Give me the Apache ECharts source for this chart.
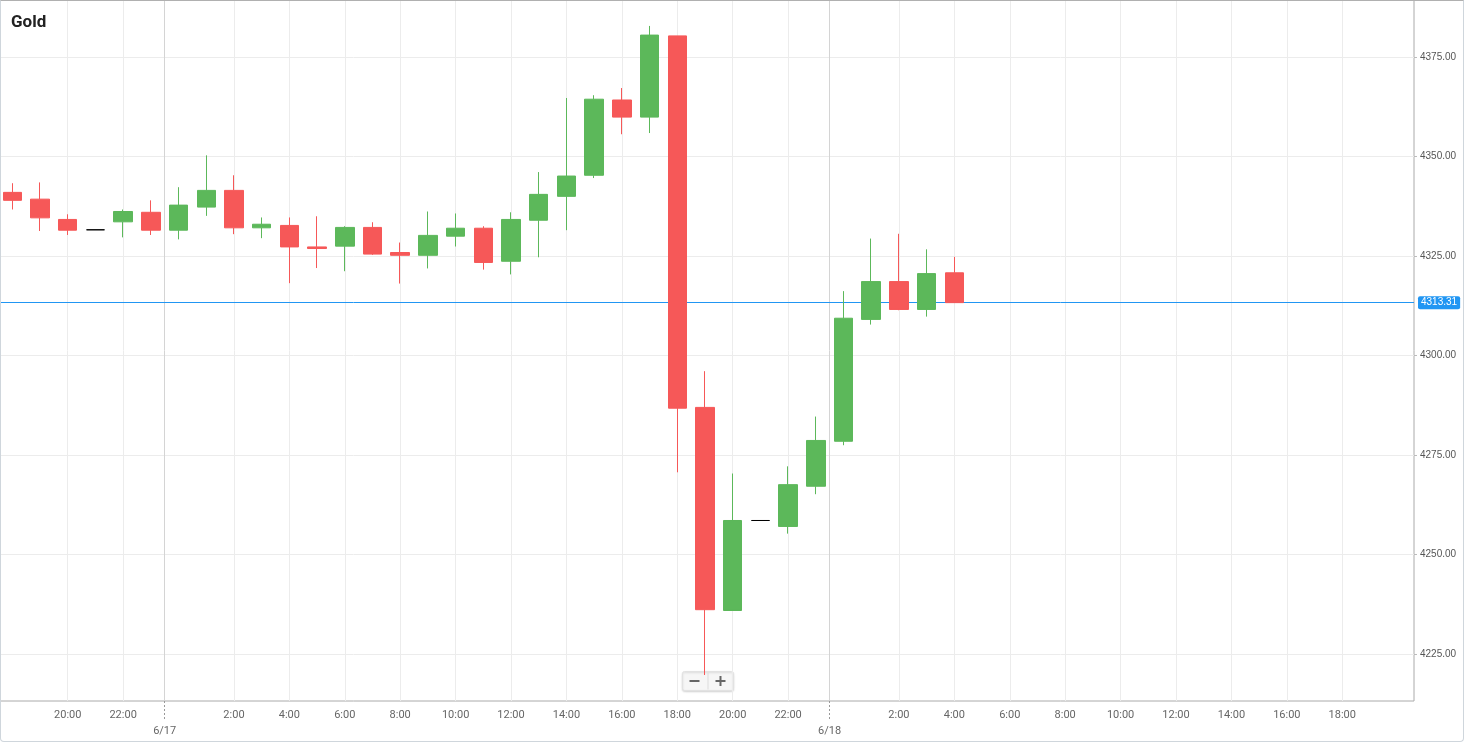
<!DOCTYPE html>
<html>
<head>
<meta charset="utf-8">
<script src="https://cdn.jsdelivr.net/npm/echarts@6/dist/echarts.min.js"></script>
<style>
html,body{margin:0;padding:0;background:#fff;}
#wrap{position:relative;width:1464px;height:742px;}
#chart{position:absolute;left:0;top:0;width:1464px;height:742px;}
#frame{position:absolute;left:0;top:0;width:1464px;height:742px;box-sizing:border-box;
  border:1px solid #cfd6dc;border-top-color:#b0b0b0;border-radius:0 0 4px 4px;pointer-events:none;}
</style>
</head>
<body>
<div id="wrap"><div id="chart"></div><div id="frame"></div></div>
<script>
// Hourly candles, 6/16 18:00 through 6/18 04:00
const candleTimes = [
  '6/16 18:00','6/16 19:00','6/16 20:00','6/16 21:00','6/16 22:00','6/16 23:00',
  '6/17 0:00','6/17 1:00','6/17 2:00','6/17 3:00','6/17 4:00','6/17 5:00',
  '6/17 6:00','6/17 7:00','6/17 8:00','6/17 9:00','6/17 10:00','6/17 11:00',
  '6/17 12:00','6/17 13:00','6/17 14:00','6/17 15:00','6/17 16:00','6/17 17:00',
  '6/17 18:00','6/17 19:00','6/17 20:00','6/17 21:00','6/17 22:00','6/17 23:00',
  '6/18 0:00','6/18 1:00','6/18 2:00','6/18 3:00','6/18 4:00'
];
const openVals  = [4341.0,4339.3,4334.2,4331.6,4333.6,4336.0,4331.5,4337.3,4341.5,4332.1,4332.7,4327.3,4327.5,4332.2,4325.9,4325.2,4330.0,4332.0,4323.7,4334.0,4340.0,4345.3,4364.2,4359.9,4380.3,4287.0,4236.0,4258.6,4257.1,4267.2,4278.5,4309.1,4318.6,4311.6,4320.8];
const closeVals = [4339.0,4334.6,4331.5,4331.6,4336.2,4331.5,4337.8,4341.5,4332.1,4333.0,4327.3,4326.9,4332.2,4325.5,4325.2,4330.2,4332.0,4323.4,4334.2,4340.5,4345.1,4364.4,4359.9,4380.5,4286.8,4236.2,4258.6,4258.6,4267.6,4278.7,4309.4,4318.6,4311.6,4320.6,4313.31];
const lowVals   = [4336.7,4331.3,4330.3,4331.6,4329.7,4330.3,4329.2,4335.1,4330.5,4329.5,4318.2,4322.0,4321.2,4325.3,4318.1,4321.9,4327.4,4321.6,4320.4,4324.7,4331.5,4344.6,4355.6,4355.9,4270.7,4219.8,4236.0,4258.6,4255.3,4265.2,4277.5,4307.8,4311.4,4309.8,4313.31];
const highVals  = [4343.3,4343.5,4335.5,4331.6,4336.7,4339.0,4342.3,4350.3,4345.3,4334.7,4334.7,4335.0,4332.5,4333.5,4328.4,4336.2,4335.7,4332.5,4336.0,4346.1,4364.7,4365.4,4367.2,4382.8,4380.3,4296.1,4270.4,4258.6,4272.2,4284.7,4316.2,4329.4,4330.6,4326.7,4324.8];
const lastPrice = 4313.31;

// x-axis tick labels (slot = hours since 6/16 18:00)
const hourLabelSlots = [2,4,8,10,12,14,16,18,20,22,24,26,28,32,34,36,38,40,42,44,46,48];
const hourLabels = ['20:00','22:00','2:00','4:00','6:00','8:00','10:00','12:00','14:00','16:00','18:00','20:00','22:00','2:00','4:00','6:00','8:00','10:00','12:00','14:00','16:00','18:00'];
const dayBreakSlots = [5.5, 29.5];
const dayLabels = ['6/17', '6/18'];
const yTicks = [4225, 4250, 4275, 4300, 4325, 4350, 4375];

const xMin = -0.444, xMax = 50.59;
const yMin = 4213.27, yMax = 4389.31;

const ohlc = candleTimes.map((t, i) => [i, openVals[i], closeVals[i], lowVals[i], highVals[i]]);

const UP = '#5CB85A', DOWN = '#F65858';

const chart = echarts.init(document.getElementById('chart'), null, {renderer: 'canvas'});
chart.setOption({
  animation: false,
  title: {
    text: 'Gold', left: 11, top: 14, padding: 0,
    textStyle: {fontFamily: 'Roboto', fontWeight: 'bold', fontSize: 17, color: '#222'}
  },
  grid: {left: 0, right: 50, top: 0, bottom: 41, show: true, borderColor: '#aaa', borderWidth: 1, backgroundColor: 'transparent'},
  xAxis: [{
    type: 'value', min: xMin, max: xMax, position: 'bottom',
    axisLine: {show: false, onZero: false},
    axisTick: {show: false, customValues: hourLabelSlots},
    axisLabel: {
      customValues: hourLabelSlots,
      formatter: v => hourLabels[hourLabelSlots.indexOf(v)] || '',
      color: '#666', fontSize: 11, fontFamily: 'Roboto', margin: 9
    },
    splitLine: {show: true, lineStyle: {color: '#ececec', width: 1}}
  }, {
    type: 'value', min: xMin, max: xMax, position: 'bottom',
    axisLine: {show: false, onZero: false},
    axisTick: {show: true, customValues: dayBreakSlots, length: 18, lineStyle: {color: '#999', type: [2, 2]}},
    axisLabel: {
      customValues: dayBreakSlots,
      formatter: v => dayLabels[dayBreakSlots.indexOf(v)] || '',
      color: '#666', fontSize: 11, fontFamily: 'Roboto', margin: 25
    },
    splitLine: {show: true, lineStyle: {color: '#d4d4d4', width: 1}}
  }],
  yAxis: {
    type: 'value', position: 'right', min: yMin, max: yMax, scale: true,
    axisLine: {show: false, onZero: false},
    axisTick: {show: true, length: 3, customValues: yTicks, lineStyle: {color: '#bbb'}},
    axisLabel: {
      customValues: yTicks,
      formatter: v => Number(v).toFixed(2),
      color: '#555', fontSize: 10, fontFamily: 'Liberation Sans', margin: 6
    },
    splitLine: {show: true, lineStyle: {color: '#ececec', width: 1}}
  },
  series: [{
    type: 'line', data: [], silent: true, z: 1,
    markLine: {
      silent: true, symbol: ['none', 'none'], z: 1,
      lineStyle: {color: '#2196f3', width: 1, type: 'solid'},
      label: {
        show: true, position: 'end', distance: 4,
        formatter: () => lastPrice.toFixed(2),
        backgroundColor: '#2196f3', color: '#fff', borderRadius: 2,
        padding: [2, 3, 1, 3], fontSize: 10, fontFamily: 'Liberation Sans'
      },
      data: [{yAxis: lastPrice}]
    }
  }, {
    type: 'candlestick', xAxisIndex: 0, yAxisIndex: 0, z: 3,
    barWidth: 19,
    data: ohlc,
    itemStyle: {
      color: UP, color0: DOWN, borderColor: UP, borderColor0: DOWN,
      borderColorDoji: '#000', borderWidth: 1
    }
  }],
  graphic: [{
    type: 'group', left: 682, top: 670,
    children: [
      {type: 'rect', shape: {x: 0, y: 0, width: 51, height: 19, r: 2},
       style: {fill: '#f6f6f6', stroke: '#e2e2e2', lineWidth: 1, shadowBlur: 2, shadowOffsetY: 1, shadowColor: 'rgba(0,0,0,0.15)'}},
      {type: 'line', shape: {x1: 25.5, y1: 1, x2: 25.5, y2: 18}, style: {stroke: '#dcdcdc', lineWidth: 1}},
      {type: 'rect', shape: {x: 7, y: 8.5, width: 10, height: 2}, style: {fill: '#666'}},
      {type: 'rect', shape: {x: 33, y: 8.5, width: 10, height: 2}, style: {fill: '#666'}},
      {type: 'rect', shape: {x: 37, y: 4.5, width: 2, height: 10}, style: {fill: '#666'}}
    ]
  }]
});
</script>
</body>
</html>
